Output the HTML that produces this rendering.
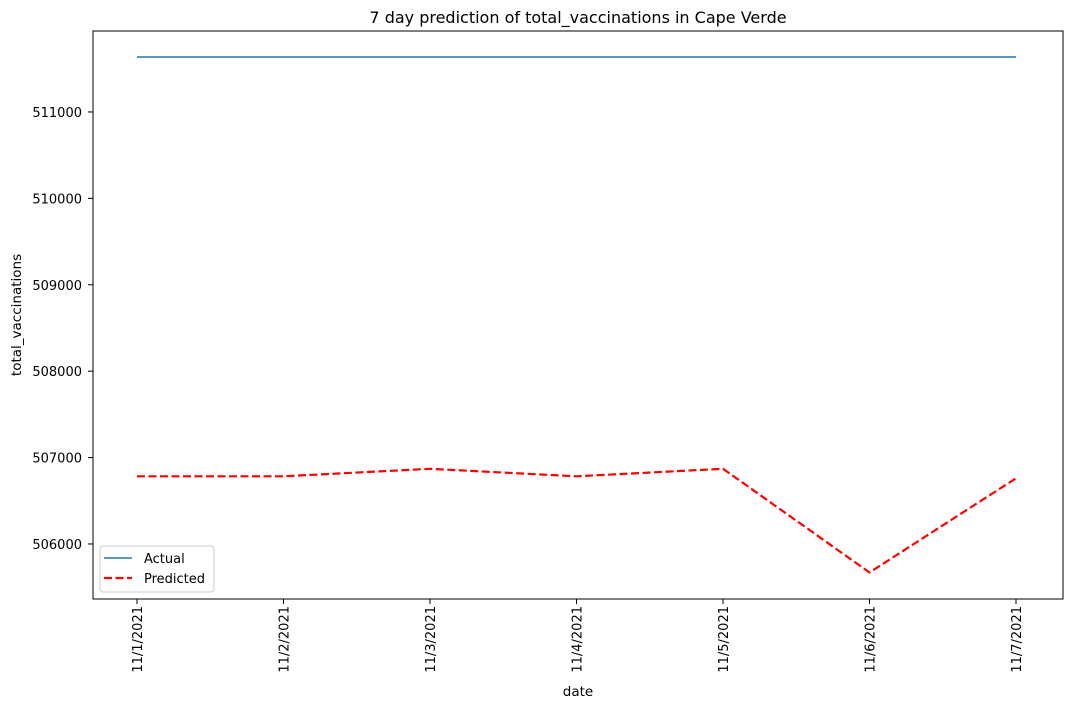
<!DOCTYPE html>
<html><head><meta charset="utf-8"><style>
body{margin:0;background:#fff;}
svg{font-family:"DejaVu Sans","Liberation Sans",sans-serif;}
</style></head><body>
<svg id="chart" width="1070" height="709" xmlns="http://www.w3.org/2000/svg"></svg>
<script>
const categories=["11/1/2021","11/2/2021","11/3/2021","11/4/2021","11/5/2021","11/6/2021","11/7/2021"];
const actualValues=[511636,511636,511636,511636,511636,511636,511636];
const predictedValues=[506783,506783,506870,506783,506870,505670,506760];
const yTicks=[506000,507000,508000,509000,510000,511000];

const svg=document.getElementById('chart');
const NS="http://www.w3.org/2000/svg";
const L=93,R=1063,T=31,B=599;
const yMin=505363,yMax=511937;
const x=i=>137+i*(1016-137)/(categories.length-1);
const y=v=>B-(v-yMin)/(yMax-yMin)*(B-T);
function mk(tag,attrs,parent){const e=document.createElementNS(NS,tag);for(const k in attrs)e.setAttribute(k,attrs[k]);(parent||svg).appendChild(e);return e;}

const title=mk('text',{x:(L+R)/2,y:23,'text-anchor':'middle','font-size':16});
title.textContent="7 day prediction of total_vaccinations in Cape Verde";



yTicks.forEach(v=>{
  const g=mk('g',{});
  
  
  mk('line',{x1:L-5,x2:L,y1:y(v),y2:y(v),stroke:'#000','stroke-width':1},g);
  const t=mk('text',{x:L-11,y:y(v)+5,'text-anchor':'end','font-size':13},g);
  t.textContent=v;
});
categories.forEach((c,i)=>{
  const g=mk('g',{});
  
  
  mk('line',{x1:x(i),x2:x(i),y1:B,y2:B+5,stroke:'#000','stroke-width':1},g);
  const t=mk('text',{x:0,y:0,'text-anchor':'end','font-size':13,transform:`translate(${x(i)+5},${B+7}) rotate(-90)`},g);
  t.textContent=c;
});
const xt=mk('text',{x:(L+R)/2,y:696,'text-anchor':'middle','font-size':13.5});
xt.textContent="date";


const yt=mk('text',{x:0,y:0,'text-anchor':'middle','font-size':13.5,transform:`translate(21,${(T+B)/2}) rotate(-90)`});
yt.textContent="total_vaccinations";



const pa=mk('polyline',{points:actualValues.map((v,i)=>x(i)+','+y(v)).join(' '),fill:'none',stroke:'#1f77b4','stroke-width':1.5});


const pp=mk('polyline',{points:predictedValues.map((v,i)=>x(i)+','+y(v)).join(' '),fill:'none',stroke:'#ff0000','stroke-width':2.2,'stroke-dasharray':'8,3.5'});



const frame=mk('rect',{x:L,y:T,width:R-L,height:B-T,fill:'none',stroke:'#000','stroke-width':1});



const lg=mk('g',{});


mk('rect',{x:100,y:546,width:114,height:46,rx:3,fill:'#fff',stroke:'#ccc'},lg);
mk('line',{x1:104,x2:132,y1:558,y2:558,stroke:'#1f77b4','stroke-width':1.5},lg);
const t1=mk('text',{x:144,y:563,'font-size':13},lg);t1.textContent="Actual";
mk('line',{x1:104,x2:132,y1:578,y2:578,stroke:'#ff0000','stroke-width':2.2,'stroke-dasharray':'8,3.5'},lg);
const t2=mk('text',{x:144,y:583,'font-size':13},lg);t2.textContent="Predicted";
</script>
</body></html>
